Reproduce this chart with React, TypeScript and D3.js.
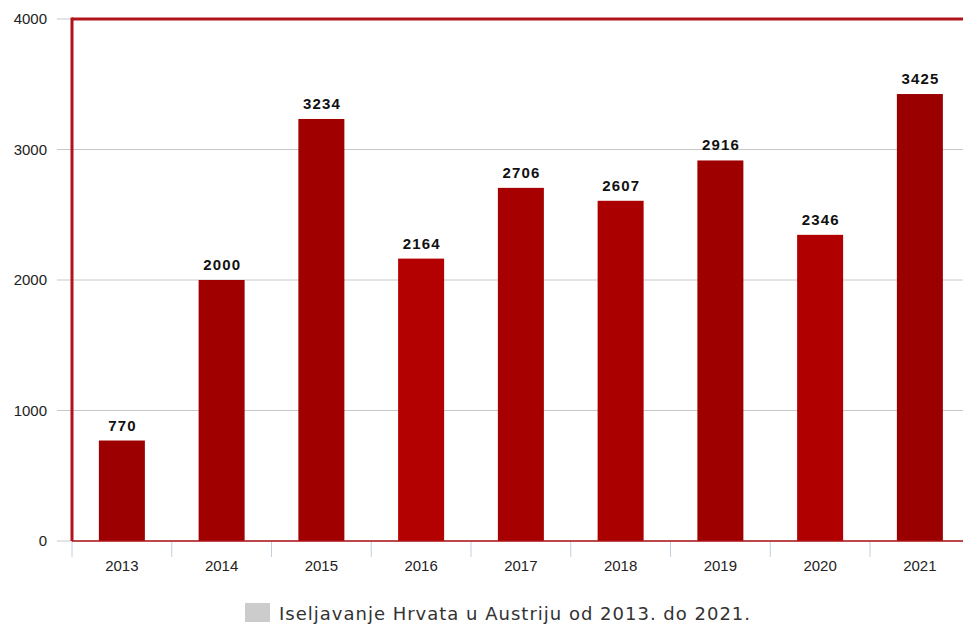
import React from "react";
import * as d3 from "d3";

const years = ["2013", "2014", "2015", "2016", "2017", "2018", "2019", "2020", "2021"];
const values = [770, 2000, 3234, 2164, 2706, 2607, 2916, 2346, 3425];
const yTicks = [0, 1000, 2000, 3000, 4000];
const legendLabel = "Iseljavanje Hrvata u Austriju od 2013. do 2021.";

const barColors = ["#9c0000", "#a00000", "#a00000", "#b30000", "#a60000", "#aa0000", "#9e0000", "#b00000", "#9a0000"];

const W = 963;
const H = 624;
const left = 72;
const top = 19;
const bottom = 541;
const step = 99.75;

export default function App() {
  const x = d3.scaleBand<string>().domain(years).range([left, left + step * years.length]).padding(0);
  const y = d3.scaleLinear().domain([0, 4000]).range([bottom, top]);
  const barW = 46;
  const frame = "#b0141a";
  return (
    <svg width={W} height={H} style={{ position: "absolute", left: 0, top: 0, display: "block" }}>
      <rect x={0} y={0} width={W} height={H} fill="#fff" />
      {yTicks.map((t) => (
        <g key={t}>
          <line x1={57} x2={W} y1={y(t)} y2={y(t)} stroke="#c8c8c8" strokeWidth={1} />
          <text x={47} y={y(t) + 5} textAnchor="end" fontFamily="Liberation Sans, Arial, sans-serif" fontSize={15} fill="#222">
            {t}
          </text>
        </g>
      ))}
      {years.map((yr) => (
        <line key={"t" + yr} x1={x(yr)!} x2={x(yr)!} y1={bottom} y2={557} stroke="#c0cfdc" strokeWidth={1} />
      ))}
      {years.map((yr, i) => {
        const cx = x(yr)! + x.bandwidth() / 2;
        return (
          <g key={yr}>
            <rect x={cx - barW / 2} y={y(values[i])} width={barW} height={bottom - y(values[i])} fill={barColors[i]} />
            <text x={cx + 0.6} y={y(values[i]) - 10} textAnchor="middle" fontFamily="Liberation Sans, Arial, sans-serif" fontSize={15} fontWeight="bold" letterSpacing={1.2} fill="#111">
              {values[i]}
            </text>
            <text x={cx} y={571} textAnchor="middle" fontFamily="Liberation Sans, Arial, sans-serif" fontSize={15} fill="#222">
              {yr}
            </text>
          </g>
        );
      })}
      <line x1={left} x2={W} y1={bottom} y2={bottom} stroke={frame} strokeWidth={1.5} />
      <line x1={left} x2={W} y1={top} y2={top} stroke={frame} strokeWidth={3} />
      <line x1={left} x2={left} y1={top - 1.5} y2={bottom} stroke={frame} strokeWidth={3} />
      <rect x={245} y={603} width={25} height={19} fill="#cccccc" />
      <text x={279} y={620} fontFamily="DejaVu Sans, Verdana, sans-serif" fontSize={18} fill="#333" letterSpacing={1}>
        {legendLabel}
      </text>
    </svg>
  );
}
